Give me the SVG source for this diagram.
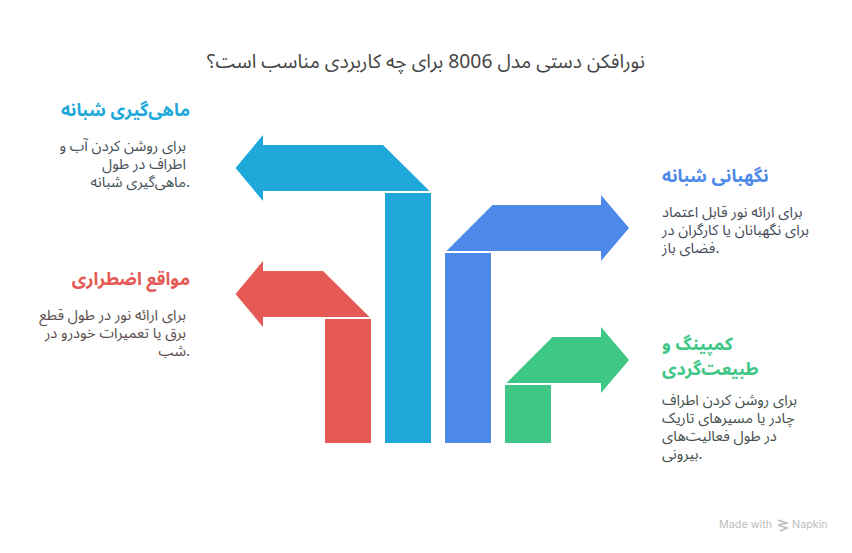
<svg xmlns="http://www.w3.org/2000/svg" width="852" height="553" viewBox="0 0 852 553">
<style>
text{font-family:"Noto Sans Arabic","Noto Sans","DejaVu Sans",sans-serif}
.title{font-size:19.3px;fill:#444}
.head{font-size:17.8px;font-weight:700}
.body{font-size:14.7px}
.end{text-anchor:end}
.mark{font-size:10.800px;font-family:Inter,sans-serif}
.cyan{fill:#1fa9db}.red{fill:#e55a54}.blue{fill:#4d89e8}.green{fill:#3ec785}
</style>
<rect width="852" height="553" fill="#fff"/>
<text id="title" class="title" x="426" y="68" text-anchor="middle">نورافکن دستی مدل 8006 برای چه کاربردی مناسب است؟</text>
<g id="connectors">
<path class="cyan" d="M385 193H431V443H385Z"/>
<path class="red" d="M325 319H371V443H325Z"/>
<path class="blue" d="M445 253H491V443H445Z"/>
<path class="green" d="M505 385H551V443H505Z"/>
</g>
<g id="node-fishing">
<path class="cyan" d="M429.5 191H263V201L235.5 168 263 135V145H383Z"/>
<text class="head cyan end" x="190" y="116">ماهی‌گیری شبانه</text>
<g class="body end" fill="#454f58">
<text x="186" y="151">برای روشن کردن آب و</text>
<text x="186" y="169">اطراف در طول</text>
<text x="190" y="187">ماهی‌گیری شبانه.</text>
</g>
</g>
<g id="node-emergency">
<path class="red" d="M369.500 317H263V327L235.500 294 263 261V271H323Z"/>
<text class="head red end" x="190" y="285">مواقع اضطراری</text>
<g class="body end" fill="#5a4c4c">
<text x="186" y="320">برای ارائه نور در طول قطع</text>
<text x="186" y="338">برق یا تعمیرات خودرو در</text>
<text x="190" y="356">شب.</text>
</g>
</g>
<g id="node-guard">
<path class="blue" d="M446.500 251H601V261L629 228 601 195V205H492.500Z"/>
<text class="head blue" x="662" y="182">نگهبانی شبانه</text>
<g class="body" fill="#454a58">
<text x="662" y="217">برای ارائه نور قابل اعتماد</text>
<text x="662" y="235">برای نگهبانان یا کارگران در</text>
<text x="662" y="253">فضای باز.</text>
</g>
</g>
<g id="node-camping">
<path class="green" d="M506.500 383H601V393L629 360 601 327V337H552.500Z"/>
<text class="head green" x="662" y="350">کمپینگ و</text>
<text class="head green" x="662" y="375">طبیعت‌گردی</text>
<g class="body" fill="#454f4c">
<text x="662" y="405">برای روشن کردن اطراف</text>
<text x="662" y="423">چادر یا مسیرهای تاریک</text>
<text x="662" y="441">در طول فعالیت‌های</text>
<text x="662" y="459">بیرونی.</text>
</g>
</g>
<g id="watermark" fill="#bdbdbd">
<text class="mark" x="719" y="528">Made with</text>
<path d="M778 520l9 3-9 2M778 525l9 3-7 3" fill="none" stroke="#bdbdbd" stroke-width="1.500"/>
<text class="mark" x="792" y="528">Napkin</text>
</g>
</svg>
